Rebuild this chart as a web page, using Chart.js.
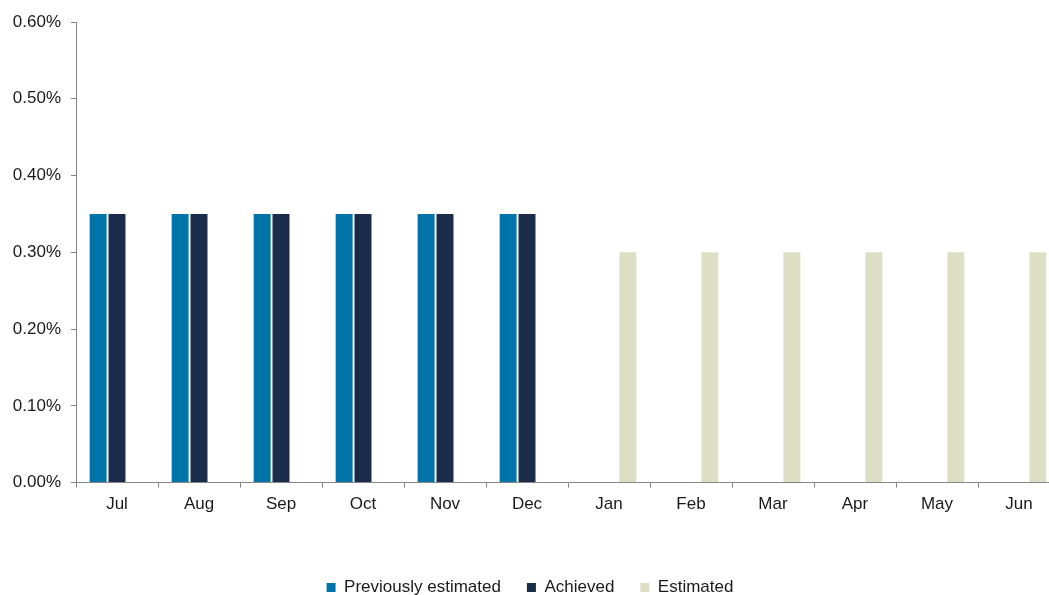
<!DOCTYPE html>
<html>
<head>
<meta charset="utf-8">
<script src="https://cdn.jsdelivr.net/npm/chart.js@4/dist/chart.umd.min.js"></script>
<style>
html, body { margin: 0; padding: 0; background: #fff; overflow: hidden; }
#wrap { width: 1064px; height: 606px; }
</style>
</head>
<body>
<div id="wrap"><canvas id="chart" width="1064" height="606"></canvas></div>
<script>
// data
var months = ["Jul", "Aug", "Sep", "Oct", "Nov", "Dec", "Jan", "Feb", "Mar", "Apr", "May", "Jun"];
var prevEstimated = [0.35, 0.35, 0.35, 0.35, 0.35, 0.35, null, null, null, null, null, null];
var achieved = [0.35, 0.35, 0.35, 0.35, 0.35, 0.35, null, null, null, null, null, null];
var estimated = [null, null, null, null, null, null, 0.30, 0.30, 0.30, 0.30, 0.30, 0.30];
var yTicks = [0, 0.1, 0.2, 0.3, 0.4, 0.5, 0.6];

var axisColor = "#858585";
Chart.defaults.font.family = "'Liberation Sans', Arial, sans-serif";
Chart.defaults.font.size = 17;
Chart.defaults.color = "#1a1a1a";

function barSet(label, values, color) {
	return {
		label: label,
		data: values,
		backgroundColor: color,
		borderColor: "#ffffff",
		borderWidth: 0,
		categoryPercentage: 0.69,
		barPercentage: 0.9
	};
}

var ctx = document.getElementById("chart");
var chart = new Chart(ctx, {
	type: "bar",
	data: {
		labels: months,
		datasets: [
			barSet("Previously estimated", prevEstimated, "#0073a9"),
			barSet("Achieved", achieved, "#1b2b4a"),
			barSet("Estimated", estimated, "#dcdfc4")
		]
	},
	options: {
		responsive: false,
		animation: false,
		layout: { padding: { top: 22, right: 4, left: 0, bottom: 0 } },
		plugins: {
			tooltip: { enabled: false },
			legend: {
				position: "bottom",
				labels: {
					boxWidth: 9,
					boxHeight: 9,
					padding: 26,
					color: "#1a1a1a",
					font: { size: 17 }
				}
			}
		},
		scales: {
			x: {
				grid: {
					offset: true,
					drawOnChartArea: false,
					tickLength: 5,
					color: axisColor
				},
				border: { color: axisColor, width: 1 },
				ticks: { padding: 7, color: "#1a1a1a" },
				afterFit: function(scale) { scale.height += 31; }
			},
			y: {
				min: 0,
				max: 0.6,
				afterBuildTicks: function(scale) {
					scale.ticks = yTicks.map(function(v) { return { value: v }; });
				},
				afterFit: function(scale) { scale.width = 76; },
				grid: {
					drawOnChartArea: false,
					tickLength: 5,
					color: axisColor
				},
				border: { color: axisColor, width: 1 },
				ticks: {
					padding: 10,
					color: "#1a1a1a",
					callback: function(v) { return v.toFixed(2) + "%"; }
				}
			}
		}
	}
});
</script>
</body>
</html>
